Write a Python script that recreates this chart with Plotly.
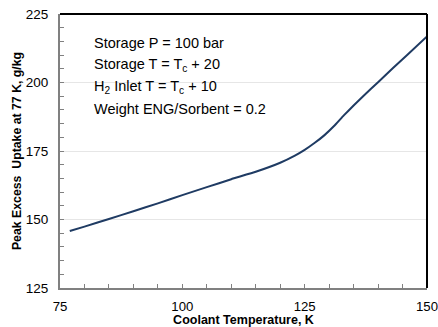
import plotly.graph_objects as go

coolant_T = [77, 80, 85, 90, 95, 100, 105, 110, 115, 120, 123, 125, 127, 129, 131, 133, 135, 137, 140, 143, 146, 150]
uptake = [145.8, 147.4, 150.2, 153.0, 155.9, 158.9, 161.8, 164.7, 167.4, 170.7, 173.3, 175.4, 177.9, 180.7, 184.1, 188.0, 191.6, 195.1, 200.1, 205.2, 210.1, 216.8]

x_ticks = [75, 100, 125, 150]
y_ticks = [125, 150, 175, 200, 225]

notes = [
    "Storage P = 100 bar",
    "Storage T = T<sub>c</sub> + 20",
    "H<sub>2</sub> Inlet T = T<sub>c</sub> + 10",
    "Weight ENG/Sorbent = 0.2",
]
note_y = [0.894, 0.814, 0.734, 0.653]

fig = go.Figure()
fig.add_trace(go.Scatter(
    x=coolant_T, y=uptake, mode="lines",
    line=dict(color="#1f3b63", width=2, shape="spline", smoothing=0.3),
    showlegend=False, hoverinfo="skip",
))

font_family = "Liberation Sans, Arial, sans-serif"

fig.update_layout(
    width=438, height=327,
    margin=dict(l=60, r=11, t=14, b=39, autoexpand=False),
    paper_bgcolor="white", plot_bgcolor="white",
    font=dict(family=font_family, size=13, color="#000000"),
    xaxis=dict(
        range=[75, 150], tickvals=x_ticks, ticktext=[str(v) for v in x_ticks],
        showgrid=False, zeroline=False, automargin=False,
        showline=True, linecolor="#808080", linewidth=2,
        ticks="inside", ticklen=4, tickcolor="#808080", tickwidth=1,
        minor=dict(dtick=5, tick0=75, ticks="inside", ticklen=4, tickcolor="#808080", showgrid=False),
        tickfont=dict(size=13.2, family=font_family),
        ticklabeloverflow="allow", ticklabelstandoff=5,
        title=dict(text="<b>Coolant Temperature, K</b>", font=dict(size=12.5, family=font_family), standoff=0),
    ),
    yaxis=dict(
        range=[125, 225], tickvals=y_ticks, ticktext=[str(v) for v in y_ticks],
        showgrid=True, gridcolor="#e6e6e6", gridwidth=1, zeroline=False, automargin=False,
        showline=True, linecolor="#808080", linewidth=2,
        ticks="inside", ticklen=4, tickcolor="#808080", tickwidth=1,
        minor=dict(dtick=5, tick0=125, ticks="inside", ticklen=4, tickcolor="#808080", showgrid=False),
        tickfont=dict(size=13.5, family=font_family),
        ticklabelstandoff=7,
        title=dict(text="<b>Peak Excess  Uptake at 77 K, g/kg</b>", font=dict(size=12.3, family=font_family), standoff=1),
    ),
    shapes=[
        dict(type="line", xref="paper", yref="paper", x0=0, x1=1, y0=1, y1=1,
             line=dict(color="#000000", width=2)),
        dict(type="line", xref="paper", yref="paper", x0=1, x1=1, y0=0, y1=1,
             line=dict(color="#000000", width=2)),
    ],
)

for txt, yy in zip(notes, note_y):
    fig.add_annotation(
        x=0.086, y=yy, xref="paper", yref="paper", xanchor="left", yanchor="middle",
        text=txt, showarrow=False, font=dict(size=14.5, family=font_family, color="#000000"),
    )

fig.write_html("out.html")
